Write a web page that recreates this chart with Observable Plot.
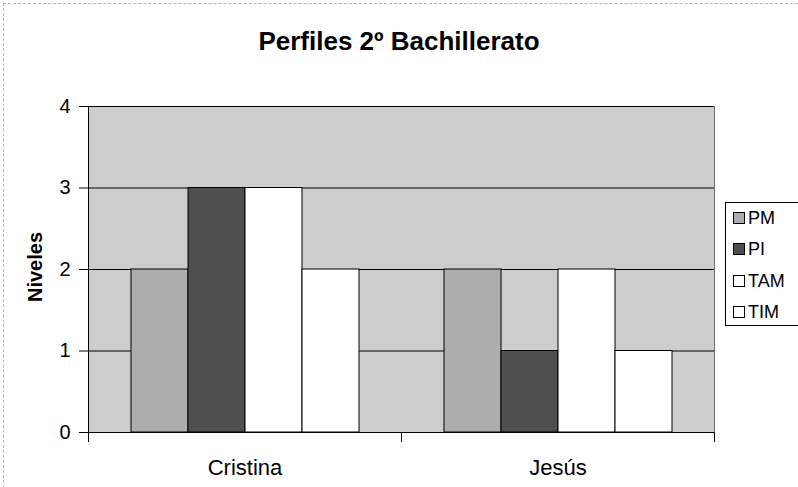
<!DOCTYPE html>
<html>
<head>
<meta charset="utf-8">
<script src="https://cdn.jsdelivr.net/npm/d3@7"></script>
<script src="https://cdn.jsdelivr.net/npm/@observablehq/plot@0.6"></script>
<style>
  html, body { margin: 0; padding: 0; background: #fff; }
  body { width: 798px; height: 487px; overflow: hidden; position: relative; font-family: "Liberation Sans", Arial, sans-serif; }
  #border { position: absolute; left: 3px; top: 3px; width: 800px; height: 490px; border: 1px dashed #b5b5b5; box-sizing: border-box; }
  #title { position: absolute; left: 0; width: 798px; top: 26px; text-align: center; font-size: 26px; font-weight: bold; color: #000; }
  #ylabel { position: absolute; left: 35px; top: 267px; transform: translate(-50%, -50%) rotate(-90deg); font-size: 20px; font-weight: bold; white-space: nowrap; }
  #chart { position: absolute; left: 0; top: 70px; }
  #legend { position: absolute; left: 725px; top: 202px; width: 90px; height: 124px; border: 1px solid #000; box-sizing: border-box; background: #fff; }
  .item { position: absolute; left: 7px; font-size: 18px; line-height: 20px; white-space: nowrap; }
  .sw { display: inline-block; width: 10px; height: 10px; border: 1px solid #000; margin-right: 3px; vertical-align: 0px; }
</style>
</head>
<body>
<div id="border"></div>
<div id="title">Perfiles 2º Bachillerato</div>
<div id="ylabel">Niveles</div>
<div id="chart"></div>
<div id="legend"></div>
<script>
const people = ["Cristina", "Jesús"];
const series = ["PM", "PI", "TAM", "TIM"];
const cristina = [2, 3, 3, 2];
const jesus = [2, 1, 2, 1];
const yTicks = [0, 1, 2, 3, 4];
const colors = ["#adadad", "#4f4f4f", "#ffffff", "#ffffff"];
const plotBg = "#cdcdcd";

const rows = [];
series.forEach((s, i) => {
  rows.push({person: people[0], serie: s, value: cristina[i]});
  rows.push({person: people[1], serie: s, value: jesus[i]});
});

const plotH = 326;
const chart = Plot.plot({
  width: 798,
  height: 417,
  marginLeft: 88,
  marginRight: 84,
  marginTop: 36,
  marginBottom: 55,
  style: {fontFamily: "'Liberation Sans', Arial, sans-serif", fontSize: "20px", color: "#000", background: "transparent"},
  fx: {domain: people, padding: 0, label: null},
  x: {domain: series, paddingInner: 0, paddingOuter: 0.72, axis: null},
  y: {domain: [0, 4], label: null},
  color: {domain: series, range: colors},
  marks: [
    Plot.frame({fill: plotBg, stroke: plotBg}),
    Plot.ruleY(yTicks, {stroke: "#000", strokeWidth: 1}),
    Plot.frame({anchor: "right", stroke: "#6a6a6a", fx: () => people[1]}),
    Plot.barY(rows, {fx: "person", x: "serie", y: "value", fill: "serie", stroke: "#000", strokeWidth: 1, inset: 0}),
    Plot.frame({anchor: "left", stroke: "#000", insetBottom: -9, fx: () => people[0]}),
    Plot.frame({anchor: "left", stroke: "#000", insetTop: plotH, insetBottom: -9}),
    Plot.frame({anchor: "right", stroke: "#000", insetTop: plotH, insetBottom: -9}),
    Plot.axisY({ticks: yTicks, tickSize: 9, tickPadding: 9, fontSize: 20, tickFormat: d3.format("d"), label: null}),
    Plot.axisFx({anchor: "bottom", tickSize: 0, tickPadding: 27, fontSize: 22, label: null})
  ]
});
document.getElementById("chart").appendChild(chart);

const legend = document.getElementById("legend");
const itemTops = [5, 36, 68, 99];
series.forEach((s, i) => {
  const it = document.createElement("div");
  it.className = "item";
  it.style.top = itemTops[i] + "px";
  const sw = document.createElement("span");
  sw.className = "sw";
  sw.style.background = colors[i];
  it.appendChild(sw);
  it.appendChild(document.createTextNode(s));
  legend.appendChild(it);
});
</script>
</body>
</html>
